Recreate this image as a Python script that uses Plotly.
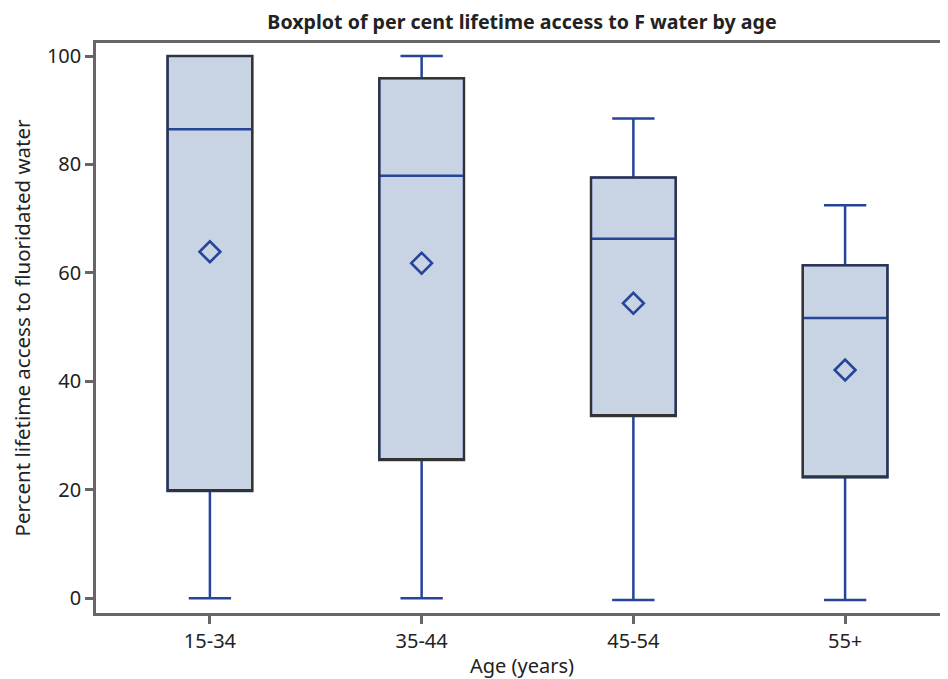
import plotly.graph_objects as go

categories = ["15-34", "35-44", "45-54", "55+"]
lower_whisker = [0.0, 0.0, -0.3, -0.3]
q1_values = [19.8, 25.5, 33.6, 22.3]
median_values = [86.5, 77.9, 66.3, 51.7]
q3_values = [100.0, 95.9, 77.6, 61.4]
upper_whisker = [100.0, 100.0, 88.5, 72.5]
mean_values = [63.9, 61.8, 54.4, 42.1]
y_ticks = [0, 20, 40, 60, 80, 100]

BLUE = "#25449a"
DARK = "#333333"
FILL = "#c8d3e3"
AXIS = "#666666"
FONT = "Noto Sans"

fig = go.Figure()

# Main box: fill, blue median and blue whiskers
fig.add_trace(go.Box(
    x=categories, q1=q1_values, median=median_values, q3=q3_values,
    lowerfence=lower_whisker, upperfence=upper_whisker,
    width=0.4, whiskerwidth=0.5,
    fillcolor=FILL, line=dict(color=BLUE, width=2.5),
    boxpoints=False, showlegend=False, hoverinfo="skip",
))
# Dark outline over the box
fig.add_trace(go.Box(
    x=categories, q1=q1_values, median=q1_values, q3=q3_values,
    lowerfence=q1_values, upperfence=q3_values,
    width=0.4, whiskerwidth=0.5,
    fillcolor="rgba(0,0,0,0)", line=dict(color=DARK, width=2),
    boxpoints=False, showlegend=False, hoverinfo="skip",
))
# Means
fig.add_trace(go.Scatter(
    x=categories, y=mean_values, mode="markers",
    marker=dict(symbol="diamond-open", size=16, color=BLUE,
                line=dict(color=BLUE, width=2.6)),
    showlegend=False,
))

fig.update_layout(
    width=940, height=671,
    margin=dict(l=88, r=0, t=35, b=66),
    plot_bgcolor="white", paper_bgcolor="white",
    boxmode="overlay",
    font=dict(family=FONT, size=20, color="#222222"),
    title=dict(text="<b>Boxplot of per cent lifetime access to F water by age</b>",
               xref="paper", x=0.5, xanchor="center",
               yref="container", y=0.979, yanchor="middle",
               font=dict(family=FONT, size=19.6, color="#222222")),
)
fig.update_xaxes(
    type="category", categoryorder="array", categoryarray=categories,
    range=[-0.538, 3.486], showgrid=False, zeroline=False,
    showline=True, linecolor=AXIS, linewidth=2.5, mirror=True,
    ticks="outside", ticklen=8, tickwidth=2.5, tickcolor=AXIS,
    tickfont=dict(size=20),
    title=dict(text="Age (years)", font=dict(size=20), standoff=9),
)
fig.update_yaxes(
    range=[-2.71, 102.4], tickvals=y_ticks, showgrid=False, zeroline=False,
    showline=True, linecolor=AXIS, linewidth=2.5, mirror=False,
    ticks="outside", ticklen=8, tickwidth=2.5, tickcolor=AXIS,
    tickfont=dict(size=20),
    title=dict(text="Percent lifetime access to fluoridated water", font=dict(size=20.5), standoff=12),
)

fig.write_html("out.html")
